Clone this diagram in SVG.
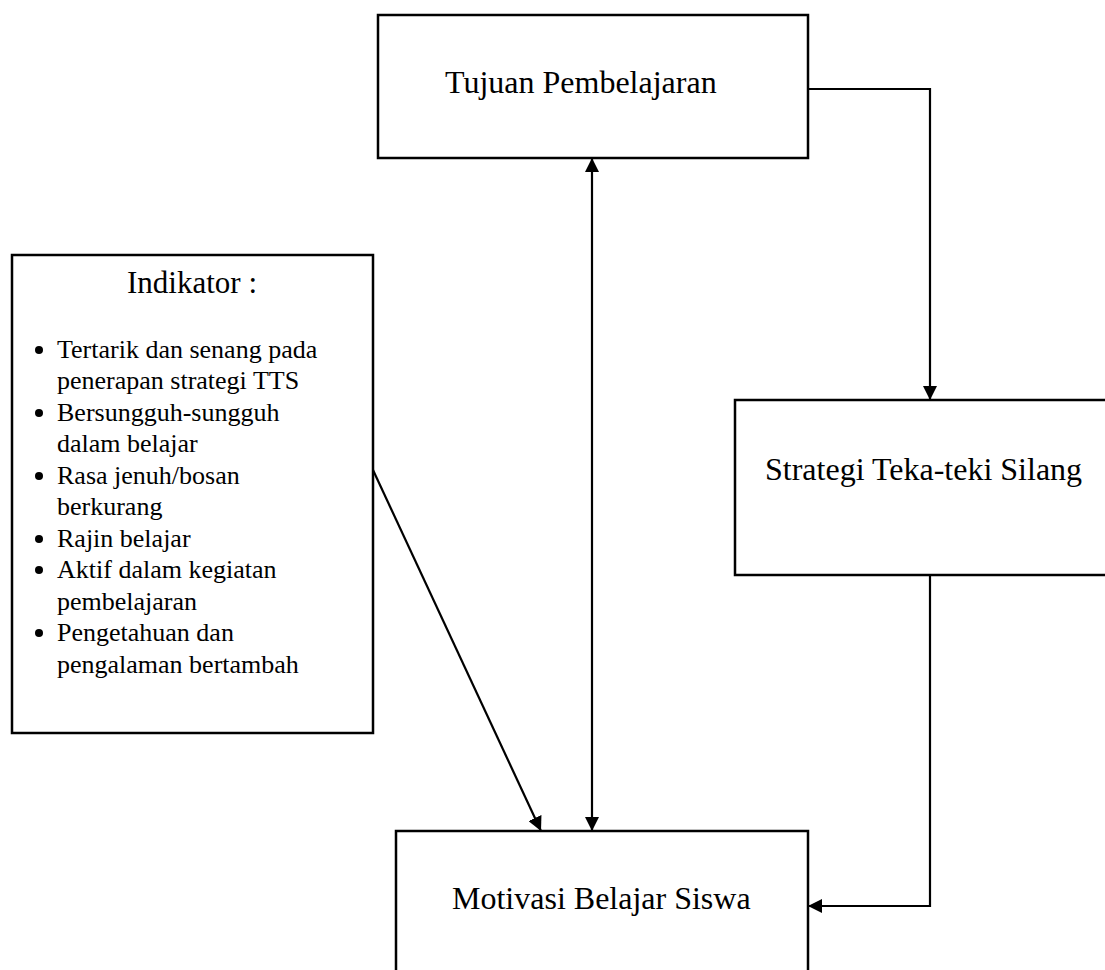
<svg xmlns="http://www.w3.org/2000/svg" width="1105" height="970" viewBox="0 0 1105 970">
  <style>
    .box { fill: #ffffff; stroke: #000000; stroke-width: 2.5; }
    .lbl { font-family: "Liberation Serif", "Times New Roman", serif; font-size: 32px; fill: #000000; }
    .head { font-family: "Liberation Serif", "Times New Roman", serif; font-size: 31px; fill: #000000; }
    .item { font-family: "Liberation Serif", "Times New Roman", serif; font-size: 26px; fill: #000000; }
    .conn { fill: none; stroke: #000000; stroke-width: 2.2; }
  </style>
  <defs>
    <marker id="arrow" viewBox="0 0 10 10" refX="10" refY="5" markerWidth="6.5" markerHeight="6.5" markerUnits="strokeWidth" orient="auto-start-reverse">
      <path d="M0,0 L10,5 L0,10 z" fill="#000000"/>
    </marker>
  </defs>
  <rect width="1105" height="970" fill="#ffffff"/>

  <g id="node-tujuan">
    <rect class="box" x="378" y="15" width="430" height="143"/>
    <text class="lbl" x="445" y="93">Tujuan Pembelajaran</text>
  </g>

  <g id="node-indikator">
    <rect class="box" x="12" y="255" width="361" height="478"/>
    <text class="head" x="192" y="293" text-anchor="middle">Indikator :</text>
    <g fill="#000000">
      <circle cx="39" cy="350" r="4"/>
      <circle cx="39" cy="413" r="4"/>
      <circle cx="39" cy="476" r="4"/>
      <circle cx="39" cy="539" r="4"/>
      <circle cx="39" cy="570" r="4"/>
      <circle cx="39" cy="633" r="4"/>
    </g>
    <text class="item" x="57" y="358">Tertarik dan senang pada</text>
    <text class="item" x="57" y="389">penerapan strategi TTS</text>
    <text class="item" x="57" y="421">Bersungguh-sungguh</text>
    <text class="item" x="57" y="452">dalam belajar</text>
    <text class="item" x="57" y="484">Rasa jenuh/bosan</text>
    <text class="item" x="57" y="515">berkurang</text>
    <text class="item" x="57" y="547">Rajin belajar</text>
    <text class="item" x="57" y="578">Aktif dalam kegiatan</text>
    <text class="item" x="57" y="610">pembelajaran</text>
    <text class="item" x="57" y="641">Pengetahuan dan</text>
    <text class="item" x="57" y="673">pengalaman bertambah</text>
  </g>

  <g id="node-strategi">
    <rect class="box" x="735" y="400" width="380" height="175"/>
    <text class="lbl" x="765" y="480">Strategi Teka-teki Silang</text>
  </g>

  <g id="node-motivasi">
    <rect class="box" x="396" y="831" width="412" height="160"/>
    <text class="lbl" x="452" y="909">Motivasi Belajar Siswa</text>
  </g>

  <g id="connectors">
    <polyline class="conn" points="808,89 930,89 930,400" marker-end="url(#arrow)"/>
    <polyline class="conn" points="930,575 930,906 808,906" marker-end="url(#arrow)"/>
    <line class="conn" x1="592" y1="158" x2="592" y2="831" marker-start="url(#arrow)" marker-end="url(#arrow)"/>
    <line class="conn" x1="373" y1="470" x2="541" y2="831" marker-end="url(#arrow)"/>
  </g>
</svg>
